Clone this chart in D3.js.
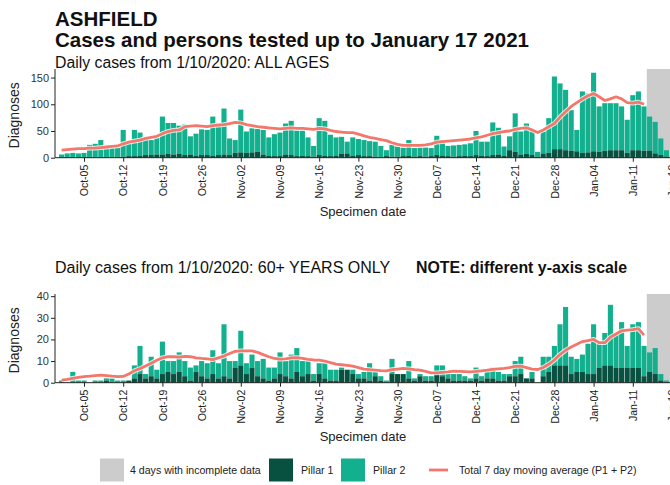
<!DOCTYPE html>
<html><head><meta charset="utf-8">
<script src="https://cdn.jsdelivr.net/npm/d3@7/dist/d3.min.js"></script>
<style>body{margin:0;background:#fff;} svg{display:block;font-family:"Liberation Sans",Arial,sans-serif;}</style>
</head><body><svg id="c" width="670" height="485"></svg>
<script>
// ---- data ----
const firstDay = Date.UTC(2020, 9, 1);
const nDays = 109;
const dates = d3.range(nDays).map(i => new Date(firstDay + i * 864e5));
const incompleteDays = 4;

const allPillar1 = [0,1,0,1,1,1,0,1,1,0,1,2,3,3,4,5,5,6,6,7,6,7,5,6,4,5,5,4,5,6,5,9,10,9,10,11,6,4,3,4,6,5,3,4,3,2,5,4,3,4,7,8,4,5,3,3,2,1,3,2,2,3,4,2,3,2,3,5,4,3,2,3,4,3,5,4,3,5,6,4,14,11,6,7,5,2,8,9,16,16,14,13,12,9,10,12,11,13,14,14,14,9,14,14,13,13,8,5,2];
const allPillar2 = [6,7,9,7,8,23,26,32,17,18,18,50,24,49,43,30,28,31,71,58,59,53,57,34,41,48,47,73,60,86,31,24,80,40,45,43,46,34,41,43,58,64,48,47,35,20,69,65,40,34,32,22,34,30,30,28,28,21,11,22,19,16,29,16,16,17,15,36,29,19,21,21,21,24,45,26,27,61,50,17,26,72,43,57,47,9,41,65,136,123,113,76,40,115,110,147,85,89,88,88,82,62,103,110,83,64,59,31,12];
const allAvg = [14,15,16,17,17,18,18,19,20,21,22,26,29,31,33,36,38,40,45,49,51,52,58,59,60,59,58,60,61,62,64,66,65,62,60,58,57,56,55,54,55,56,55,55,54,53,55,54,51,49,48,47,47,44,41,38,36,34,32,28,25,23,23,23,23,24,26,29,30,31,32,33,34,35,37,39,42,45,47,49,50,53,55,56,52,47,52,58,64,76,86,96,103,110,116,120,114,107,110,114,110,103,102,104,100];

const oldPillar1 = [0,0,0,0,0,0,0,0,1,0,0,0,1,2,4,2,3,2,4,5,4,5,3,1,5,3,2,4,2,3,2,7,8,4,7,3,2,1,2,4,3,2,5,3,4,1,4,2,1,1,6,6,4,2,2,1,3,1,0,4,4,4,2,1,3,1,1,4,3,2,1,1,1,1,2,1,2,2,1,1,3,3,4,2,2,0,3,5,8,8,8,4,5,5,4,4,7,8,8,7,7,7,7,7,3,5,4,1,0];
const oldPillar2 = [1,0,5,1,1,0,1,1,1,2,1,1,0,6,13,2,9,4,15,5,6,9,7,6,3,7,7,11,7,24,8,3,16,5,6,7,9,6,5,10,7,11,11,7,6,3,5,7,5,5,1,0,2,2,3,8,2,2,1,7,0,0,8,1,1,2,2,4,5,2,3,3,2,1,5,2,4,5,4,3,1,7,8,0,3,0,9,7,9,19,27,8,6,8,14,23,11,15,28,16,21,10,20,21,14,9,12,3,1];
const oldAvg = [1.2,1.5,2,2.5,2.8,3,3.3,3.5,3.3,3,2.8,2.9,4,5.5,6.5,7.7,9,10.4,11.5,12,12,11.8,12.2,12,11.5,11.2,11,10.7,11.5,12.3,13.5,14.5,14.7,14.7,14.7,14,13,12,11.2,10.9,11,11.5,11.6,11.2,10.8,10.5,10.4,10,9.3,8.6,8.3,8,7.7,7,6.3,6,5.8,5.6,5.5,6,6.3,6.6,6.4,6,5.8,5.2,4.5,4.5,4.8,5,5.3,5.2,5.1,5,5.2,5.5,5.8,6.2,6.4,6.6,7,7.5,7.7,7,6.3,6.1,7,8.5,10.5,13,15,16.5,17.8,19,19.5,20,18.5,18.5,21,22.5,24,24.3,24.5,25,22];

const topTicks = [0, 50, 100, 150];
const bottomTicks = [0, 10, 20, 30, 40];

const legendLabels = ["4 days with incomplete data", "Pillar 1", "Pillar 2", "Total 7 day moving average (P1 + P2)"];

// ---- style ----
const C_P1 = "#08503f", C_P2 = "#12b08e", C_GREY = "#cccccc", C_LINE = "#f4776c";

const svg = d3.select("#c");
const dayMs = 864e5;
const x = d3.scaleUtc()
  .domain([new Date(firstDay - dayMs / 2), new Date(firstDay + (nDays + 0.5) * dayMs)])
  .range([58.8, 58.8 + 5.6 * (nDays + 1)]);
const bw = 5.6;
const axisLeft = 55;

// titles
svg.append("text").attr("x", 55).attr("y", 26).attr("font-size", 20.5).attr("font-weight", "bold").attr("fill", "#111").text("ASHFIELD");
svg.append("text").attr("x", 55).attr("y", 47).attr("font-size", 20.5).attr("font-weight", "bold").attr("fill", "#111").text("Cases and persons tested up to January 17 2021");

function panel(p1, p2, avg, yMax, ticks, y0, yTop) {
  const y = d3.scaleLinear().domain([0, yMax]).range([y0, yTop]);
  const g = svg.append("g");
  // grey incomplete region
  const gs = dates[nDays - incompleteDays];
  g.append("rect").attr("x", x(gs) - bw / 2).attr("y", yTop)
    .attr("width", x.range()[1] - (x(gs) - bw / 2)).attr("height", y0 - yTop).attr("fill", C_GREY);
  const data = dates.map((d, i) => ({ d, p1: p1[i], p2: p2[i] }));
  // pillar 2 stacked on top of pillar 1
  g.selectAll(".b2").data(data).join("rect")
    .attr("x", d => x(d.d) - bw / 2 + 0.25).attr("width", bw - 0.5)
    .attr("y", d => y(d.p1 + d.p2)).attr("height", d => y(d.p1) - y(d.p1 + d.p2))
    .attr("fill", C_P2);
  g.selectAll(".b1").data(data).join("rect")
    .attr("x", d => x(d.d) - bw / 2 + 0.25).attr("width", bw - 0.5)
    .attr("y", d => y(d.p1)).attr("height", d => y0 - y(d.p1))
    .attr("fill", C_P1);
  // moving average
  const line = d3.line().x((v, i) => x(dates[i])).y(v => y(v));
  g.append("path").attr("d", line(avg)).attr("fill", "none").attr("stroke", "#fff").attr("stroke-width", 4.8).attr("stroke-linejoin", "round").attr("opacity", 0.8);
  g.append("path").attr("d", line(avg)).attr("fill", "none").attr("stroke", C_LINE).attr("stroke-width", 2.8).attr("stroke-linejoin", "round");
  // y axis
  const ya = g.append("g").attr("transform", `translate(${axisLeft},0)`)
    .call(d3.axisLeft(y).tickValues(ticks).tickSize(4).tickPadding(2).tickSizeOuter(0));
  ya.select(".domain").attr("d", `M0,${y0}V${yTop}`).attr("stroke", "#222");
  ya.selectAll("text").attr("font-size", 11).attr("fill", "#333").attr("font-family", "Liberation Sans, Arial");
  ya.selectAll("line").attr("stroke", "#222");
  // x axis
  const xa = g.append("g").attr("transform", `translate(0,${y0})`)
    .call(d3.axisBottom(x).ticks(d3.utcMonday.every(1)).tickFormat(d3.utcFormat("%b-%d")).tickSize(4).tickSizeOuter(0));
  xa.select(".domain").attr("d", `M${axisLeft},0H${x.range()[1]}`).attr("stroke", "#222");
  xa.selectAll("line").attr("stroke", "#222");
  xa.selectAll("text").attr("font-size", 10.5).attr("fill", "#222").attr("font-family", "Liberation Sans, Arial")
    .attr("text-anchor", "end").attr("transform", "rotate(-90)")
    .attr("x", -7).attr("y", 0).attr("dy", "0.35em");
  // axis titles
  svg.append("text").attr("transform", `translate(19,${(y0 + yTop) / 2 + 2}) rotate(-90)`)
    .attr("text-anchor", "middle").attr("font-size", 14).attr("fill", "#222").text("Diagnoses");
  svg.append("text").attr("x", 363).attr("y", y0 + 58).attr("text-anchor", "middle")
    .attr("font-size", 13).attr("fill", "#222").text("Specimen date");
}

svg.append("text").attr("x", 55).attr("y", 68).attr("font-size", 15.8).attr("fill", "#111").text("Daily cases from 1/10/2020: ALL AGES");
panel(allPillar1, allPillar2, allAvg, 166, topTicks, 157.7, 69);

svg.append("text").attr("x", 55).attr("y", 273).attr("font-size", 16).attr("fill", "#111").text("Daily cases from 1/10/2020: 60+ YEARS ONLY");
svg.append("text").attr("x", 416).attr("y", 273).attr("font-size", 15.9).attr("font-weight", "bold").attr("fill", "#111").text("NOTE: different y-axis scale");
panel(oldPillar1, oldPillar2, oldAvg, 41, bottomTicks, 382.7, 294);

// legend
const lg = svg.append("g").attr("font-size", 10.6).attr("fill", "#222");
const ly = 470;
const swatches = [
  { x: 100, c: C_GREY, t: legendLabels[0], tx: 130 },
  { x: 269, c: C_P1, t: legendLabels[1], tx: 301 },
  { x: 341, c: C_P2, t: legendLabels[2], tx: 373 }
];
swatches.forEach(s => {
  lg.append("rect").attr("x", s.x).attr("y", ly - 11.5).attr("width", 24).attr("height", 23).attr("fill", s.c);
  lg.append("text").attr("x", s.tx).attr("y", ly + 4).text(s.t);
});
lg.append("line").attr("x1", 429).attr("x2", 448).attr("y1", ly).attr("y2", ly).attr("stroke", C_LINE).attr("stroke-width", 2.8);
lg.append("text").attr("x", 459).attr("y", ly + 4).text(legendLabels[3]);
</script></body></html>
